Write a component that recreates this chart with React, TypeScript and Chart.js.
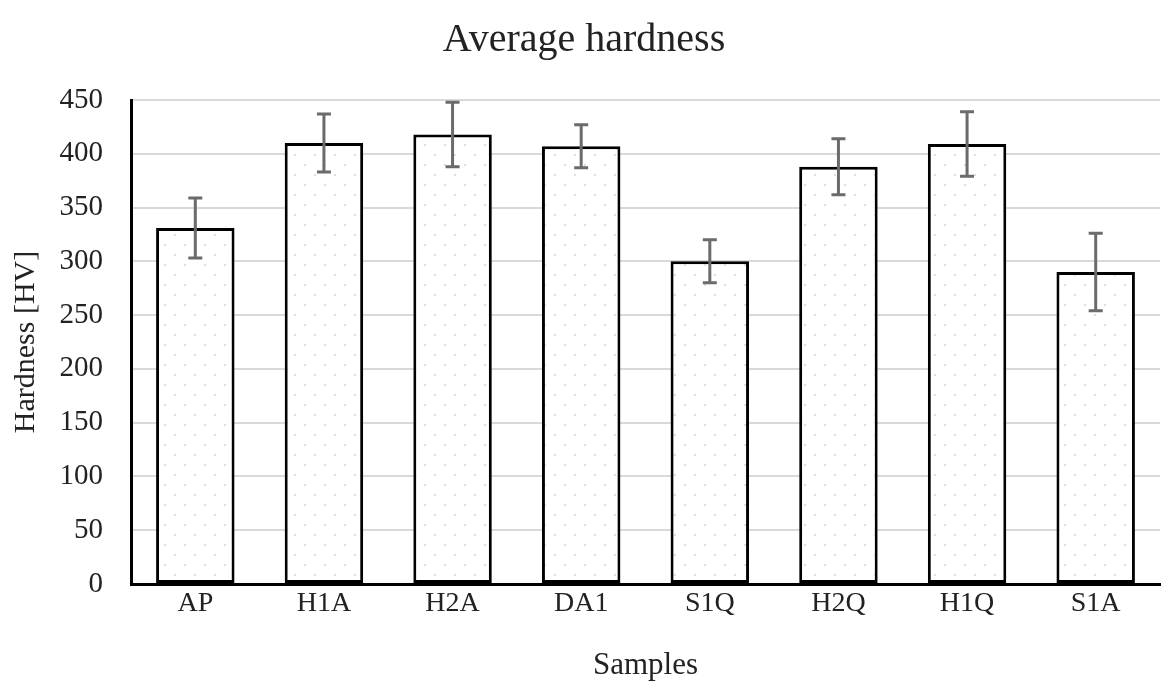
import React, { useEffect, useRef } from "react";
import { Chart, registerables } from "chart.js";

Chart.register(...registerables);

const samples = ["AP", "H1A", "H2A", "DA1", "S1Q", "H2Q", "H1Q", "S1A"];
const hardness = [331, 410, 418, 407, 300, 388, 409, 290];
const hardnessError = [28, 27, 30, 20, 20, 26, 30, 36];
const yTicks = [0, 50, 100, 150, 200, 250, 300, 350, 400, 450];

const FONT = "'Liberation Serif', 'Times New Roman', serif";

function makeDotPattern(): CanvasPattern | string {
  const c = document.createElement("canvas");
  c.width = 20;
  c.height = 20;
  const g = c.getContext("2d");
  if (!g) return "#fff";
  g.fillStyle = "#ffffff";
  g.fillRect(0, 0, 20, 20);
  g.fillStyle = "rgba(200,200,200,0.6)";
  g.fillRect(4, 4, 2, 2);
  g.fillRect(14, 14, 2, 2);
  const p = g.createPattern(c, "repeat");
  return p || "#fff";
}

const errorBarPlugin = {
  id: "errorBars",
  afterDatasetsDraw(chart: any) {
    const meta = chart.getDatasetMeta(0);
    const y = chart.scales.y;
    const ctx = chart.ctx;
    ctx.save();
    ctx.strokeStyle = "#6b6b6b";
    ctx.lineWidth = 3;
    meta.data.forEach((bar: any, i: number) => {
      const x = bar.x;
      const top = y.getPixelForValue(hardness[i] + hardnessError[i]);
      const bottom = y.getPixelForValue(hardness[i] - hardnessError[i]);
      const cap = 7;
      ctx.beginPath();
      ctx.moveTo(x, top);
      ctx.lineTo(x, bottom);
      ctx.moveTo(x - cap, top);
      ctx.lineTo(x + cap, top);
      ctx.moveTo(x - cap, bottom);
      ctx.lineTo(x + cap, bottom);
      ctx.stroke();
    });
    ctx.restore();
  },
};

export default function App() {
  const ref = useRef<HTMLCanvasElement>(null);

  useEffect(() => {
    document.body.style.margin = "0";
    const canvas = ref.current;
    if (!canvas) return;
    const chart = new Chart(canvas, {
      type: "bar",
      data: {
        labels: samples,
        datasets: [
          {
            data: hardness,
            backgroundColor: makeDotPattern() as any,
            borderColor: "#000",
            borderWidth: 3,
            borderSkipped: false,
            categoryPercentage: 1,
            barPercentage: 0.61,
          },
        ],
      },
      options: {
        animation: false,
        responsive: false,
        layout: { padding: { left: 8, right: 9, top: 0, bottom: 0 } },
        plugins: {
          legend: { display: false },
          tooltip: { enabled: false },
          title: {
            display: true,
            text: "Average hardness",
            color: "#222",
            font: { family: FONT, size: 40, weight: "normal" },
            padding: { top: 16, bottom: 36 },
          },
        },
        scales: {
          x: {
            afterFit(scale: any) {
              scale.height = 100;
            },
            grid: { display: false, drawTicks: false },
            border: { color: "#000", width: 3 },
            ticks: {
              color: "#222",
              font: { family: FONT, size: 28 },
              padding: 3,
            },
            title: {
              display: true,
              text: "Samples",
              color: "#222",
              font: { family: FONT, size: 31 },
              padding: { top: 0, bottom: 0 },
            },
          },
          y: {
            min: 0,
            max: 450,
            afterFit(scale: any) {
              scale.width = 123;
            },
            afterBuildTicks(axis: any) {
              axis.ticks = yTicks.map((v) => ({ value: v }));
            },
            grid: { color: "#d9d9d9", lineWidth: 2, drawTicks: false },
            border: { color: "#000", width: 3 },
            ticks: {
              color: "#222",
              font: { family: FONT, size: 29 },
              padding: 28,
            },
            title: {
              display: true,
              text: "Hardness [HV]",
              color: "#222",
              font: { family: FONT, size: 30 },
              padding: { top: 0, bottom: 0 },
            },
          },
        },
      },
      plugins: [errorBarPlugin],
    });
    return () => chart.destroy();
  }, []);

  return (
    <div style={{ width: 1169, height: 684, background: "#fff" }}>
      <canvas ref={ref} width={1169} height={684} />
    </div>
  );
}
